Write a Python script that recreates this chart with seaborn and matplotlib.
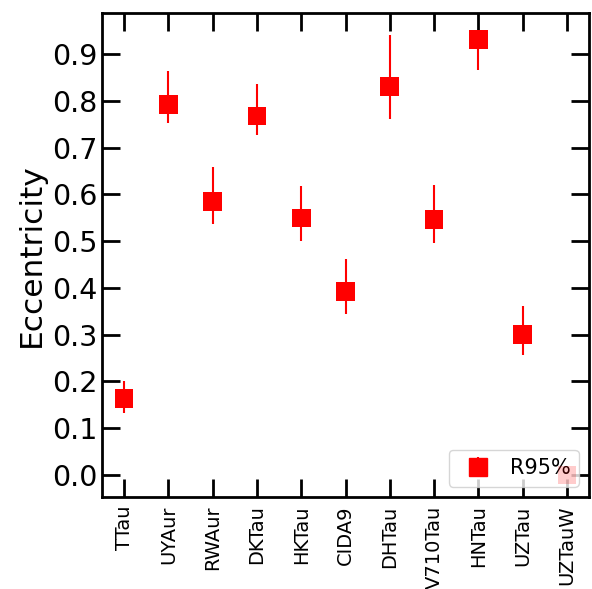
import numpy as np
import matplotlib
matplotlib.use("Agg")
import matplotlib.pyplot as plt
import seaborn as sns

# ---- data ----
targets = ["TTau", "UYAur", "RWAur", "DKTau", "HKTau", "CIDA9",
           "DHTau", "V710Tau", "HNTau", "UZTau", "UZTauW"]
ecc = [0.163, 0.793, 0.585, 0.768, 0.550, 0.393, 0.831, 0.547, 0.932, 0.301, 0.0]
ecc_lo = [0.132, 0.753, 0.536, 0.727, 0.501, 0.345, 0.761, 0.497, 0.866, 0.256, 0.0]
ecc_hi = [0.202, 0.864, 0.659, 0.836, 0.618, 0.461, 0.941, 0.621, 0.938, 0.361, 0.0]
point_alpha = [1, 1, 1, 1, 1, 1, 1, 1, 1, 1, 0.2]
y_ticks = [0.0, 0.1, 0.2, 0.3, 0.4, 0.5, 0.6, 0.7, 0.8, 0.9]
legend_label = "R95%"

sns.set_style("ticks", {"axes.labelcolor": "black", "text.color": "black",
                        "xtick.color": "black", "ytick.color": "black",
                        "axes.edgecolor": "black"})
plt.rcParams['font.family'] = ['DejaVu Sans']

fig = plt.figure(figsize=(5.92, 5.89), dpi=100)
ax = fig.add_axes([102/592, 1 - 497/589, (589 - 102)/592, (497 - 13)/589])

df_x = np.arange(len(targets))
ecc = np.array(ecc)
lo = ecc - np.array(ecc_lo)
hi = np.array(ecc_hi) - ecc

# error bars (only for the first ten targets)
n = len(targets) - 1
ax.errorbar(df_x[:n], ecc[:n], yerr=[lo[:n], hi[:n]], fmt='none',
            ecolor='red', elinewidth=1.5, zorder=2)

# markers via seaborn
rgba = [(1, 0, 0, a) for a in point_alpha]
sns.scatterplot(x=df_x, y=ecc, marker='s', s=180, c=rgba,
                edgecolor='none', linewidth=0, ax=ax, zorder=6, legend=False)

# legend handle
h = ax.errorbar([], [], yerr=[], fmt='s', color='red', ms=13.4,
                elinewidth=1.5, label=legend_label)
leg = ax.legend(handles=[h], labels=[legend_label], loc='lower right',
                fontsize=15, handletextpad=0.5)
leg.set_zorder(5)

ax.set_xticks(df_x)
ax.set_xticklabels(targets, rotation=90, fontsize=14)
ax.set_yticks(y_ticks)
ax.tick_params(axis='y', labelsize=20.5)
ax.set_ylabel("Eccentricity", fontsize=22.5)
ax.tick_params(direction='in', top=True, right=True, length=13, width=2,
               colors='black')
ax.tick_params(axis='x', pad=6)
ax.margins(x=0.05, y=0.05)
for sp in ax.spines.values():
    sp.set_linewidth(2)
    sp.set_color('black')

fig.savefig("out.png", dpi=100)
